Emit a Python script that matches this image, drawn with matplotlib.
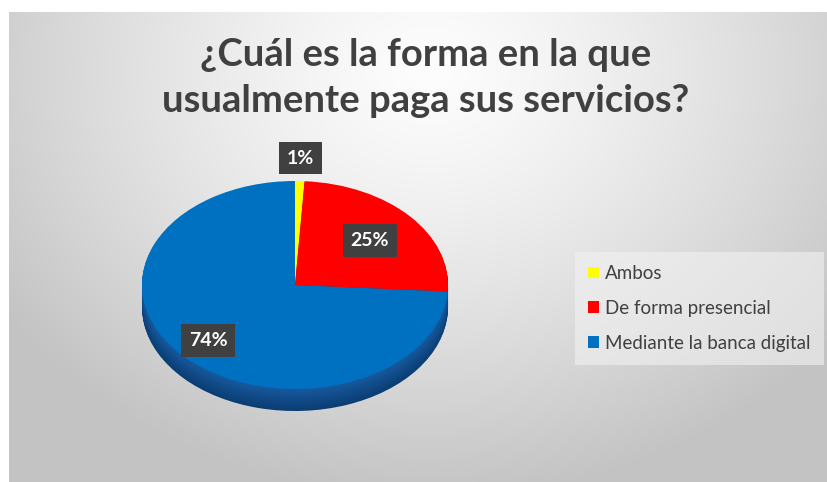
import numpy as np
import matplotlib
matplotlib.use('Agg')
import matplotlib.pyplot as plt

plt.rcParams['font.family'] = ['Lato', 'DejaVu Sans']

# datos
labels = ['Ambos', 'De forma presencial', 'Mediante la banca digital']
values = [1, 25, 74]
pct_text = ['1%', '25%', '74%']
colors = ['#ffff00', '#ff0000', '#0070c0']
side_top = np.array([[0.55, 0.55, 0.0], [0.62, 0.0, 0.0], [0.09, 0.35, 0.62]])
side_bot = np.array([[0.40, 0.40, 0.0], [0.45, 0.0, 0.0], [0.04, 0.24, 0.45]])
label_dist = [1.22, 0.65, 0.78]

W, H = 828, 482
fig = plt.figure(figsize=(W / 100, H / 100), dpi=100)
fig.patch.set_facecolor('white')

# fondo con degradado radial
bg = fig.add_axes([0, 0, 1, 1])
yy, xx = np.mgrid[12:H, 9:W]
r = np.sqrt(((xx - 430) / 520.) ** 2 + ((yy - 70) / 430.) ** 2)
g = (253 - 58 * np.clip(r, 0, 1) ** 1.3) / 255.
bg.imshow(np.dstack([g, g, g]), extent=(9, W, H, 12), aspect='auto', interpolation='bilinear')
bg.set_xlim(0, W)
bg.set_ylim(H, 0)
bg.axis('off')

fig.text(426 / W, 1 - 78 / H, '¿Cuál es la forma en la que\nusualmente paga sus servicios?',
         ha='center', va='center', fontsize=27.5, fontweight='bold', color='#404040', linespacing=1.4)

# pastel 3D (capas para el lateral)
cx, cy, rx, ry, depth = 295, 285, 153, 104, 22
ax = fig.add_axes([(cx - rx) / W, (H - (cy + ry + depth)) / H, 2 * rx / W, (2 * ry + depth) / H])
n = 30
for i in range(n, 0, -1):
    f = i / n
    cols = side_top * (1 - f) + side_bot * f
    ax.pie(values, colors=cols, startangle=90, counterclock=False,
           center=(0, -depth / ry * f), wedgeprops=dict(linewidth=0))
wedges, _ = ax.pie(values, colors=colors, startangle=90, counterclock=False,
                   wedgeprops=dict(linewidth=0))
ax.set_aspect('auto')
ax.set_xlim(-1, 1)
ax.set_ylim(-1 - depth / ry, 1)
ax.axis('off')

cum = np.cumsum([0] + values)
tot = sum(values)
for i, t in enumerate(pct_text):
    mid = np.deg2rad(90 - (cum[i] + values[i] / 2) / tot * 360)
    ax.text(label_dist[i] * np.cos(mid), label_dist[i] * np.sin(mid), t,
            ha='center', va='center', color='white', fontsize=14, fontweight='bold',
            bbox=dict(boxstyle='square,pad=0.4', fc='#404040', ec='none'))

leg = fig.legend(wedges, labels, loc='upper left', bbox_to_anchor=(575 / W, 1 - 252 / H),
                 frameon=True, fancybox=False, fontsize=13.5, labelcolor='#404040',
                 handlelength=0.6, handleheight=0.6, handletextpad=0.3,
                 labelspacing=0.95, borderpad=0.7, borderaxespad=0)
leg.get_frame().set_facecolor('#f2f2f2')
leg.get_frame().set_edgecolor('none')
leg.get_frame().set_alpha(0.6)

plt.savefig('out.png', dpi=100)
